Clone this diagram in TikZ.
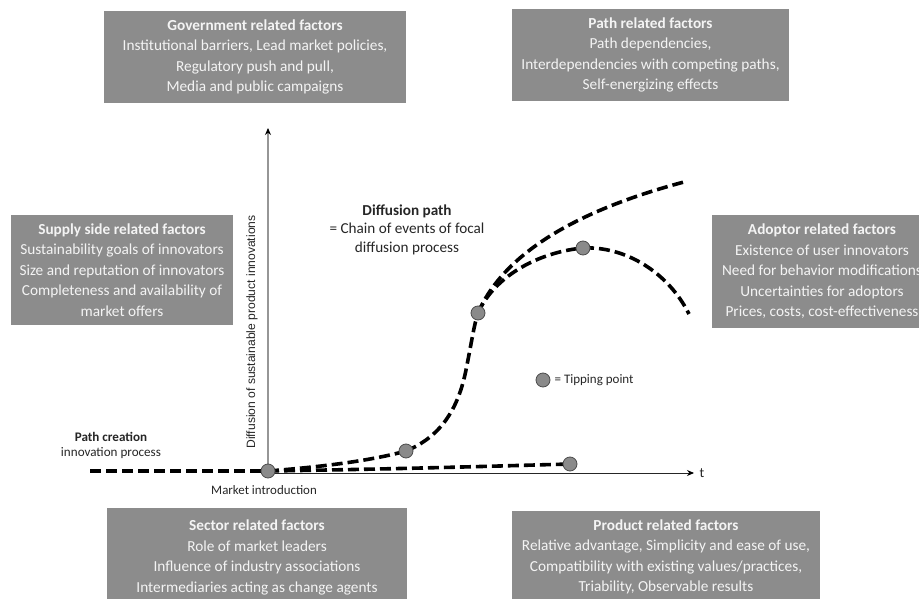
\documentclass[tikz,border=0pt]{standalone}
\usepackage{fontspec}
\setmainfont{Carlito}
\newfontfamily\arialfont{Liberation Sans}
\usetikzlibrary{arrows.meta,backgrounds}
\definecolor{boxgray}{RGB}{140,140,140}
\definecolor{boxtext}{RGB}{244,244,244}
\definecolor{inkgray}{RGB}{38,38,38}
\definecolor{axisgray}{RGB}{150,150,150}
\definecolor{dotgray}{RGB}{138,138,138}

\begin{document}
\begin{tikzpicture}[x=1pt,y=-1pt,
  factorbox/.style={fill=boxgray, text=boxtext, align=center, inner sep=0pt,
    font=\fontsize{15.3}{20.5}\selectfont},
  pathline/.style={draw=black, line width=3.6pt, dash pattern=on 11pt off 5pt},
  tip/.style={circle, fill=dotgray, draw=black!70, line width=0.8pt,
    minimum size=14pt, inner sep=0pt},
  plainlabel/.style={text=inkgray, align=center, inner sep=0pt}
]
\useasboundingbox (0,0) rectangle (919,599);
\clip (0,0) rectangle (919,599);

% factor boxes
\node[factorbox, minimum width=302pt, minimum height=92pt] (gov) at (255,57)
  {\textbf{Government related factors}\\Institutional barriers, Lead market policies,\\
   Regulatory push and pull,\\Media and public campaigns};
\node[factorbox, minimum width=277pt, minimum height=92pt] (pathf) at (650.5,55)
  {\textbf{Path related factors}\\Path dependencies,\\
   Interdependencies with competing paths,\\Self-energizing effects};
\node[factorbox, minimum width=222pt, minimum height=110pt] (supply) at (122,270)
  {\textbf{Supply side related factors}\\Sustainability goals of innovators\\
   Size and reputation of innovators\\Completeness and availability of\\market offers};
\node[factorbox, minimum width=220pt, minimum height=113pt] (adopt) at (822,271.5)
  {\textbf{Adoptor related factors}\\Existence of user innovators\\
   Need for behavior modifications\\Uncertainties for adoptors\\
   Prices, costs, cost-effectiveness};
\node[factorbox, minimum width=300pt, minimum height=99pt] (sector) at (257,557.5)
  {\textbf{Sector related factors}\\Role of market leaders\\
   Influence of industry associations\\Intermediaries acting as change agents};
\node[factorbox, minimum width=308pt, minimum height=92pt] (product) at (666,557)
  {\textbf{Product related factors}\\Relative advantage, Simplicity and ease of use,\\
   Compatibility with existing values/practices,\\Triability, Observable results};

% tipping points and curve ends
\node[tip] (mi) at (268,471) {};
\node[tip] (t1) at (406,451) {};
\node[tip] (t2) at (478,313) {};
\node[tip] (t3) at (583,248) {};
\node[tip] (t4) at (570,464) {};
\coordinate (start) at (90,471);
\coordinate (up) at (684,182);
\coordinate (down) at (689,314);
\coordinate (ytop) at (268,128);
\coordinate (xend) at (694,473);
\coordinate (xzero) at (268,473);

\begin{scope}[on background layer]
  % axes
  \draw[axisgray, line width=1.2pt, -{Stealth[black,length=7pt,width=6pt]}] (mi.center) -- (ytop);
  \draw[black!85, line width=0.9pt, -{Stealth[black,length=7pt,width=6pt]}] (xzero) -- (xend);
  % diffusion paths
  \draw[pathline] (start) -- (mi.center);
  \draw[pathline] (mi.center) .. controls (320,467) and (370,461) .. (t1.center);
  \draw[pathline] (t1.center) .. controls (440,437) and (458,410) .. (466,370)
                  .. controls (472,340) and (474,325) .. (t2.center);
  \draw[pathline] (t2.center) .. controls (500,262) and (560,215) .. (up);
  \draw[pathline] (t2.center) .. controls (495,275) and (540,252) .. (t3.center);
  \draw[pathline] (t3.center) .. controls (625,246) and (668,272) .. (down);
  \draw[pathline] (mi.center) .. controls (400,469) and (500,466) .. (t4.center);
\end{scope}

% labels
\node[plainlabel, font=\fontsize{15.2}{18.5}\selectfont] (dpath) at (407,229.5)
  {\textbf{Diffusion path}\\= Chain of events of focal\\diffusion process};
\node[plainlabel, font=\fontsize{13.1}{15.5}\selectfont] (pcreate) at (111,445.5)
  {\textbf{Path creation}\\innovation process};
\node[plainlabel, font=\fontsize{12.9}{14}\selectfont] (mintro) at (264,490)
  {Market introduction};
\node[plainlabel, rotate=90, font=\arialfont\fontsize{12.1}{13}\selectfont] (ylab) at (252,332)
  {Diffusion of sustainable product innovations};
\node[plainlabel, font=\fontsize{14}{15}\selectfont] (tlab) at (702,473) {t};
\node[tip] (legdot) at (543,380) {};
\node[plainlabel, anchor=west, xshift=4pt, font=\fontsize{13}{14}\selectfont] (legtext)
  at (legdot.east) {= Tipping point};
\end{tikzpicture}
\end{document}
